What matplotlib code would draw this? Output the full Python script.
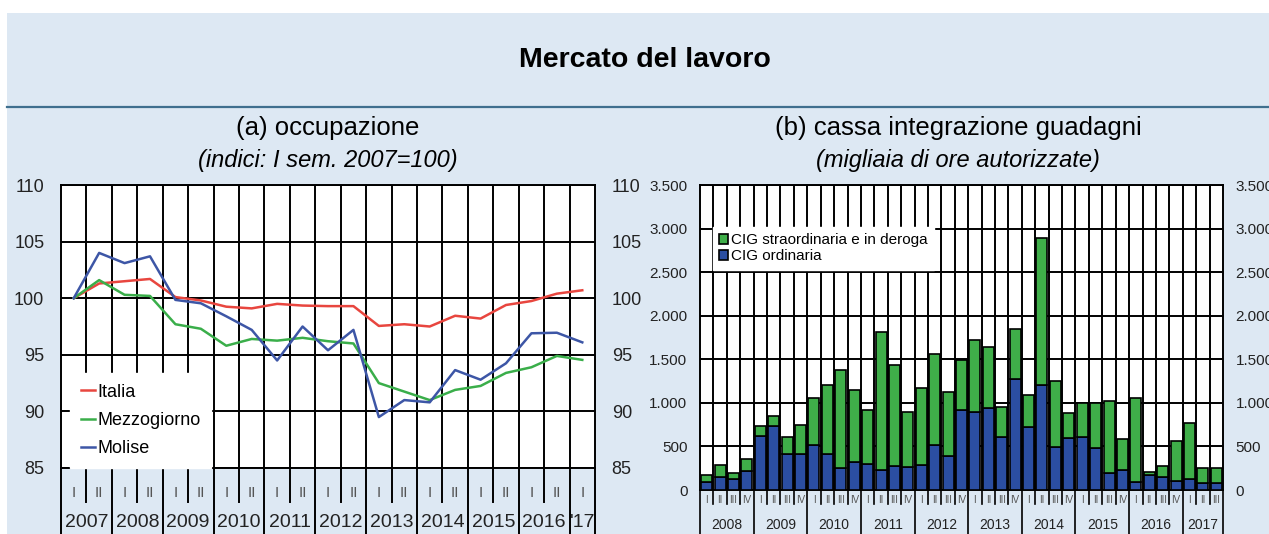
import numpy as np
import matplotlib
matplotlib.use('Agg')
import matplotlib.pyplot as plt
from matplotlib.patches import Rectangle
from matplotlib.lines import Line2D

plt.rcParams['font.family'] = ['Liberation Sans', 'DejaVu Sans']

# (a) occupazione - semestral indices (I sem. 2007 = 100)
sem_labels = ['I', 'II'] * 10 + ['I']
sem_years = ['2007', '2008', '2009', '2010', '2011', '2012', '2013', '2014', '2015', '2016', "'17"]
italia = [100.0, 101.3, 101.5, 101.7, 100.1, 99.8, 99.25, 99.1, 99.5, 99.35,
          99.3, 99.3, 97.55, 97.7, 97.5, 98.45, 98.2, 99.4, 99.75, 100.4, 100.7]
mezzogiorno = [100.0, 101.6, 100.3, 100.2, 97.7, 97.3, 95.8, 96.4, 96.25, 96.5,
               96.2, 96.0, 92.5, 91.75, 91.0, 91.9, 92.25, 93.4, 93.9, 94.9, 94.55]
molise = [100.0, 104.0, 103.1, 103.7, 99.85, 99.55, 98.4, 97.2, 94.5, 97.5,
          95.4, 97.2, 89.5, 91.0, 90.8, 93.65, 92.8, 94.25, 96.9, 96.95, 96.1]

# (b) cassa integrazione guadagni - quarterly, thousands of hours
q_labels = ['I', 'II', 'III', 'IV'] * 9 + ['I', 'II', 'III']
q_years = ['2008', '2009', '2010', '2011', '2012', '2013', '2014', '2015', '2016', '2017']
cig_ordinaria = [96, 153, 122, 218, 623, 734, 409, 409, 516, 409, 249, 325,
                 295, 230, 275, 268, 290, 516, 390, 918, 891, 937, 612, 1270,
                 727, 1205, 497, 593, 612, 478, 191, 230, 88, 172, 145, 103,
                 122, 84, 84]
cig_straord = [76, 134, 77, 134, 115, 119, 195, 337, 544, 796, 1128, 823,
               623, 1579, 1159, 623, 877, 1041, 738, 574, 830, 700, 337, 574,
               363, 1683, 754, 294, 383, 517, 834, 351, 972, 38, 130, 463,
               643, 165, 165]

W, H = 1269, 534
BG = '#dde8f3'
fig = plt.figure(figsize=(W / 100, H / 100), dpi=100, facecolor='white')
fig.patches.append(Rectangle((7 / W, 0), 1, 1 - 13 / H, transform=fig.transFigure,
                             facecolor=BG, edgecolor='none', zorder=-10))
fig.lines.append(Line2D([7 / W, 1], [1 - 107 / H] * 2, transform=fig.transFigure,
                        color='#3f6f8e', lw=1.6))
fig.text(645 / W, 1 - 60 / H, 'Mercato del lavoro', ha='center', va='center',
         fontsize=20.5, fontweight='bold')
fig.text(328 / W, 1 - 128 / H, '(a) occupazione', ha='center', va='center', fontsize=18.5)
fig.text(328 / W, 1 - 160 / H, '(indici: I sem. 2007=100)', ha='center', va='center',
         fontsize=17, style='italic')
fig.text(958 / W, 1 - 128 / H, '(b) cassa integrazione guadagni', ha='center', va='center',
         fontsize=18.5)
fig.text(958 / W, 1 - 160 / H, '(migliaia di ore autorizzate)', ha='center', va='center',
         fontsize=17, style='italic')


def px_axes(x0, x1, y0, y1):
    return fig.add_axes([x0 / W, 1 - y1 / H, (x1 - x0) / W, (y1 - y0) / H])


def style_axes(ax):
    ax.set_facecolor('white')
    for s in ax.spines.values():
        s.set_linewidth(1.4)
        s.set_color('black')
    ax.grid(True, color='black', lw=1.4)
    ax.set_axisbelow(True)


# ---- left panel
ax1 = px_axes(61, 595, 185, 468)
style_axes(ax1)
n1 = len(italia)
x1 = np.arange(n1)
ax1.plot(x1, italia, color='#e8463f', lw=1.8, label='Italia', zorder=3)
ax1.plot(x1, mezzogiorno, color='#3aae4a', lw=1.8, label='Mezzogiorno', zorder=3)
ax1.plot(x1, molise, color='#3d56a6', lw=1.8, label='Molise', zorder=3)
ax1.set_xlim(-0.5, n1 - 0.5)
ax1.set_ylim(85, 110)
ax1.set_yticks(range(85, 111, 5))
ax1.set_xticks(np.arange(0.5, n1 - 1, 1))
ax1.tick_params(axis='x', length=0, labelbottom=False)
ax1.tick_params(axis='y', length=0, labelsize=13, labelright=True, pad=12)
for t in ax1.get_yticklabels():
    t.set_color('#222222')
leg1 = ax1.legend(loc='lower left', bbox_to_anchor=(0.017, 0.0), borderaxespad=0,
                  fontsize=13, frameon=True, fancybox=False, framealpha=1,
                  edgecolor='white', handlelength=0.8, handletextpad=0.1,
                  labelspacing=0.62, borderpad=0.6)
leg1.set_zorder(4)

tr1 = ax1.get_xaxis_transform()
for i in range(n1 + 1):
    b = i - 0.5
    if i % 2 == 0 or i == n1:
        ax1.add_line(Line2D([b, b], [0, -0.3], transform=tr1, color='black', lw=1.4, clip_on=False))
    else:
        ax1.add_line(Line2D([b, b], [0, -0.12], transform=tr1, color='black', lw=1.4, clip_on=False))
for i, lab in enumerate(sem_labels):
    ax1.text(i, -0.088, lab, transform=tr1, ha='center', va='center', fontsize=11, color='#555555')
for k, yr in enumerate(sem_years):
    xc = 2 * k + 0.5 if k < len(sem_years) - 1 else n1 - 1
    ax1.text(xc, -0.194, yr, transform=tr1, ha='center', va='center', fontsize=14, color='#222222')

# ---- right panel
ax2 = px_axes(700, 1223, 185, 490)
style_axes(ax2)
n2 = len(cig_ordinaria)
x2 = np.arange(n2)
ax2.bar(x2, cig_ordinaria, width=0.82, color='#2b4ea2', edgecolor='black', lw=1.2,
        label='CIG ordinaria', zorder=3)
ax2.bar(x2, cig_straord, bottom=cig_ordinaria, width=0.82, color='#3fae49',
        edgecolor='black', lw=1.2, label='CIG straordinaria e in deroga', zorder=3)
ax2.set_xlim(-0.5, n2 - 0.5)
ax2.set_ylim(0, 3500)
yt = list(range(0, 3501, 500))
ax2.set_yticks(yt)
ax2.set_yticklabels([f'{v:,}'.replace(',', '.') for v in yt])
ax2.set_xticks(np.arange(0.5, n2 - 1, 1))
ax2.tick_params(axis='x', length=0, labelbottom=False)
ax2.tick_params(axis='y', length=0, labelsize=11, labelright=True, pad=9)
for t in ax2.get_yticklabels():
    t.set_color('#222222')
h, l = ax2.get_legend_handles_labels()
leg2 = ax2.legend(h[::-1], l[::-1], loc='upper left', bbox_to_anchor=(0.025, 0.862),
                  borderaxespad=0, fontsize=11, frameon=True, fancybox=False,
                  framealpha=1, edgecolor='white', handlelength=0.6, handleheight=0.6,
                  handletextpad=0.2, labelspacing=0.15, borderpad=0.4)
leg2.set_zorder(4)

tr2 = ax2.get_xaxis_transform()
for i in range(n2 + 1):
    b = i - 0.5
    if i % 4 == 0 or i == n2:
        ax2.add_line(Line2D([b, b], [0, -0.2], transform=tr2, color='black', lw=1.2, clip_on=False))
    else:
        ax2.add_line(Line2D([b, b], [0, -0.045], transform=tr2, color='black', lw=1.2, clip_on=False))
for i, lab in enumerate(q_labels):
    ax2.text(i, -0.033, lab, transform=tr2, ha='center', va='center', fontsize=7, color='#555555')
for k, yr in enumerate(q_years):
    xc = 4 * k + 1.5 if k < len(q_years) - 1 else (4 * k + n2 - 1) / 2
    ax2.text(xc, -0.115, yr, transform=tr2, ha='center', va='center', fontsize=10, color='#222222')

fig.savefig('out.png', dpi=100, facecolor=fig.get_facecolor())
